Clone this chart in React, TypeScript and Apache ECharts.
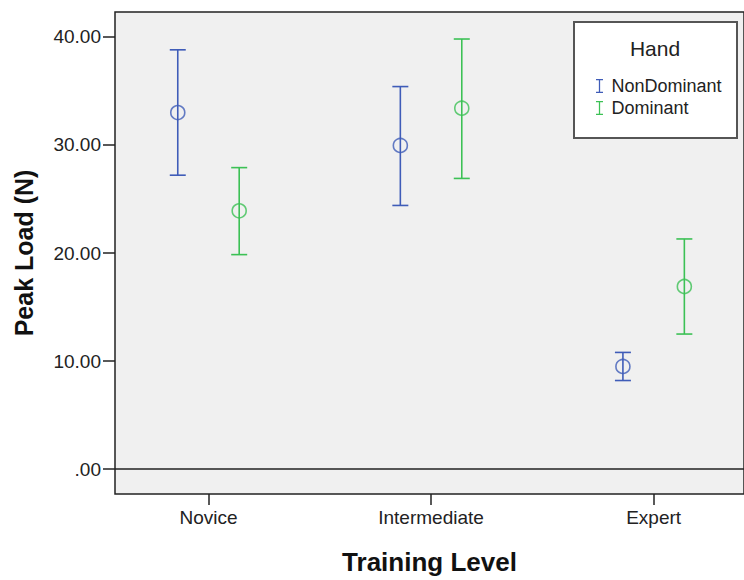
import React, { useEffect, useRef } from "react";
import * as echarts from "echarts";

const categories = ["Novice", "Intermediate", "Expert"];
const seriesNames = ["NonDominant", "Dominant"];
const colors = ["#3F5CB8", "#3CC155"];
// mean, lower, upper for each training level
const nonDomMean = [33.0, 29.95, 9.5];
const nonDomLow = [27.2, 24.4, 8.2];
const nonDomHigh = [38.8, 35.4, 10.8];
const domMean = [23.9, 33.4, 16.9];
const domLow = [19.85, 26.9, 12.5];
const domHigh = [27.9, 39.8, 21.3];
const yTicks = [0, 10, 20, 30, 40];
const xTicks = [0, 1, 2];
const clusterOffset = 0.138;

export default function App() {
  const ref = useRef<HTMLDivElement>(null);
  useEffect(() => {
    const chart = echarts.init(ref.current!, null, { renderer: "svg" });
    const font = "'Liberation Sans', Arial, sans-serif";
    const groups = [
      { mean: nonDomMean, low: nonDomLow, high: nonDomHigh, off: -clusterOffset },
      { mean: domMean, low: domLow, high: domHigh, off: clusterOffset },
    ];
    const series: any[] = [];
    groups.forEach((g, si) => {
      series.push({
        name: seriesNames[si],
        type: "custom",
        itemStyle: { color: colors[si] },
        data: categories.map((_, i) => [i + g.off, g.low[i], g.high[i]]),
        renderItem: (params: any, api: any) => {
          const x = api.value(0);
          const lo = api.coord([x, api.value(1)]);
          const hi = api.coord([x, api.value(2)]);
          const cap = 8;
          const style = { stroke: colors[si], lineWidth: 1.6 };
          return {
            type: "group",
            children: [
              { type: "line", shape: { x1: lo[0], y1: lo[1], x2: hi[0], y2: hi[1] }, style },
              { type: "line", shape: { x1: hi[0] - cap, y1: hi[1], x2: hi[0] + cap, y2: hi[1] }, style },
              { type: "line", shape: { x1: lo[0] - cap, y1: lo[1], x2: lo[0] + cap, y2: lo[1] }, style },
            ],
          };
        },
        z: 3,
      });
      series.push({
        name: seriesNames[si] + " mean",
        type: "scatter",
        symbol: "circle",
        symbolSize: 14,
        itemStyle: { color: "rgba(0,0,0,0)", borderColor: colors[si], borderWidth: 1.6 },
        data: categories.map((_, i) => [i + g.off, g.mean[i]]),
        z: 4,
        markLine:
          si === 0
            ? {
                silent: true,
                symbol: "none",
                label: { show: false },
                lineStyle: { color: "#222", width: 1.5, type: "solid" },
                data: [{ yAxis: 0 }],
              }
            : undefined,
      });
    });

    chart.setOption({
      animation: false,
      backgroundColor: "#ffffff",
      grid: {
        left: 115,
        top: 12,
        right: -4,
        bottom: 83,
        show: true,
        backgroundColor: "#F0F0F0",
        borderColor: "#222",
        borderWidth: 1.5,
      },
      xAxis: {
        type: "value",
        min: -0.42,
        max: 2.406,
        axisLine: { show: false, onZero: false },
        axisTick: {
          show: true,
          length: 11,
          customValues: xTicks,
          lineStyle: { color: "#222", width: 1.5 },
        },
        axisLabel: {
          customValues: xTicks,
          formatter: (v: number) => categories[Math.round(v)] ?? "",
          fontFamily: font,
          fontSize: 19,
          color: "#222",
          margin: 14,
        },
        splitLine: { show: false },
        name: "Training Level",
        nameLocation: "middle",
        nameGap: 55,
        nameTextStyle: { fontFamily: font, fontSize: 26, fontWeight: "bold", color: "#111" },
      },
      yAxis: {
        type: "value",
        min: -2.3,
        max: 42.3,
        axisLine: { show: false, onZero: false },
        axisTick: {
          show: true,
          length: 12,
          customValues: yTicks,
          lineStyle: { color: "#222", width: 1.5 },
        },
        axisLabel: {
          customValues: yTicks,
          formatter: (v: number) => (v === 0 ? ".00" : v.toFixed(2)),
          fontFamily: font,
          fontSize: 19,
          color: "#222",
          margin: 14,
        },
        splitLine: { show: false },
        name: "Peak Load (N)",
        nameLocation: "middle",
        nameGap: 79,
        nameTextStyle: { fontFamily: font, fontSize: 25, fontWeight: "bold", color: "#111" },
      },
      legend: {
        orient: "vertical",
        left: 591,
        top: 72,
        itemGap: 4,
        itemWidth: 8,
        itemHeight: 14,
        z: 20,
        textStyle: { fontFamily: font, fontSize: 18, color: "#222", padding: [0, 0, 0, 3] },
        data: seriesNames.map((n) => ({
          name: n,
          icon: "path://M0,0H10V1.8H5.9V18.2H10V20H0V18.2H4.1V1.8H0Z",
        })),
        selectedMode: false,
      },
      graphic: [
        {
          type: "rect",
          shape: { x: 574, y: 22, width: 163, height: 116 },
          style: { fill: "#ffffff", stroke: "#555", lineWidth: 2 },
          z: 10,
        },
        {
          type: "text",
          x: 655,
          y: 48,
          style: {
            text: "Hand",
            fontFamily: font,
            fontSize: 21,
            fill: "#222",
            align: "center",
            verticalAlign: "middle",
          },
          z: 11,
        },
      ],
      series,
    });
    return () => chart.dispose();
  }, []);
  return <div ref={ref} style={{ width: 744, height: 580, position: "absolute", left: 0, top: 0 }} />;
}
